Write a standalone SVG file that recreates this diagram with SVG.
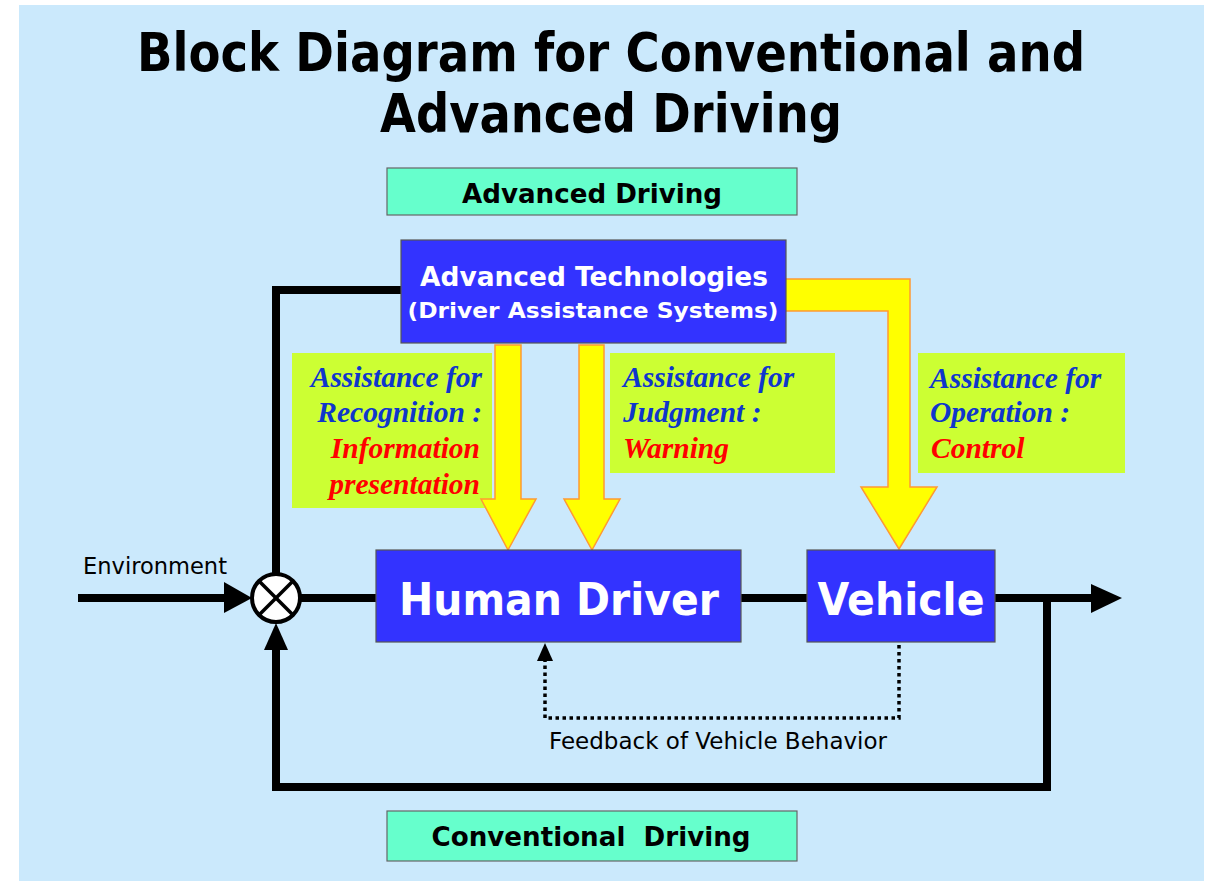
<svg xmlns="http://www.w3.org/2000/svg" width="1213" height="881" viewBox="0 0 1213 881">
<defs>
<style>
.bg{fill:#cbe9fc}
.blue{fill:#3333ff;stroke:#555;stroke-width:1.2}
.green{fill:#66ffcc;stroke:#666;stroke-width:1.2}
.lime{fill:#ccff33}
.yel{fill:#ffff00;stroke:#ff9933;stroke-width:1.5;stroke-linejoin:miter}
.ln{fill:none;stroke:#000;stroke-width:8;stroke-linejoin:miter}
.dot{fill:none;stroke:#000;stroke-width:3.5;stroke-dasharray:3.5 3.5}
.sans{font-family:"DejaVu Sans","Liberation Sans",sans-serif}
.b{font-weight:bold}
.w{fill:#ffffff}
.k{fill:#000}
.it{font-family:"Liberation Serif","Times New Roman",serif;font-style:italic;font-weight:bold;font-size:29.5px}
.ib{fill:#0f36cc}
.ir{fill:#ff0000}
</style>
</defs>
<rect x="0" y="0" width="1213" height="881" fill="#ffffff"/>
<rect class="bg" x="19" y="5" width="1185" height="876"/>

<g id="title" class="sans b k">
<text x="611" y="71" font-size="54" text-anchor="middle" textLength="948" lengthAdjust="spacingAndGlyphs">Block Diagram for Conventional and</text>
<text x="611" y="132" font-size="54" text-anchor="middle" textLength="462" lengthAdjust="spacingAndGlyphs">Advanced Driving</text>
</g>

<g id="advanced-driving-label">
<rect class="green" x="387" y="168" width="410" height="47"/>
<text class="sans b k" x="592" y="203" font-size="26" text-anchor="middle" textLength="260" lengthAdjust="spacingAndGlyphs">Advanced Driving</text>
</g>

<g id="assist-recognition">
<rect class="lime" x="292" y="353" width="200" height="155"/>
<g class="it" text-anchor="end">
<text class="ib" x="482" y="387">Assistance for</text>
<text class="ib" x="482" y="422">Recognition :</text>
<text class="ir" x="480" y="458">Information</text>
<text class="ir" x="480" y="494">presentation</text>
</g>
</g>

<g id="assist-judgment">
<rect class="lime" x="610" y="353" width="225" height="120"/>
<g class="it">
<text class="ib" x="623" y="387">Assistance for</text>
<text class="ib" x="623" y="422">Judgment :</text>
<text class="ir" x="623" y="458">Warning</text>
</g>
</g>

<g id="assist-operation">
<rect class="lime" x="918" y="353" width="207" height="120"/>
<g class="it">
<text class="ib" x="930" y="388">Assistance for</text>
<text class="ib" x="930" y="422">Operation :</text>
<text class="ir" x="931" y="458">Control</text>
</g>
</g>

<g id="assist-arrows">
<polygon class="yel" points="495,345 521,345 521,499 536,499 508,550 481,499 495,499"/>
<polygon class="yel" points="579,345 604,345 604,499 620,499 592,550 564,499 579,499"/>
<polygon class="yel" points="770,279 910,279 910,487 937,487 899,549 861,487 888,487 888,311 770,311"/>
</g>

<g id="connectors">
<polyline class="ln" points="401,290 276,290 276,574"/>
<line class="ln" x1="78" y1="598" x2="226" y2="598"/>
<polygon points="224,582 252,598 224,613" fill="#000"/>
<line class="ln" x1="300" y1="598" x2="376" y2="598"/>
<line class="ln" x1="741" y1="598" x2="807" y2="598"/>
<line class="ln" x1="995" y1="598" x2="1093" y2="598"/>
<polygon points="1091,584 1122,598 1091,613" fill="#000"/>
<polyline class="ln" points="1047,598 1047,787 276,787 276,648"/>
<polygon points="264,650 276,623 288,650" fill="#000"/>
<polyline class="dot" points="899,645 899,718 545,718 545,660"/>
<polygon points="537,661 545,643 553,661" fill="#000"/>
</g>

<g id="advanced-technologies">
<rect class="blue" x="401" y="240" width="385" height="103"/>
<text class="sans b w" x="594" y="286" font-size="26" text-anchor="middle" textLength="348" lengthAdjust="spacingAndGlyphs">Advanced Technologies</text>
<text class="sans b w" x="593" y="318" font-size="22" text-anchor="middle" textLength="371" lengthAdjust="spacingAndGlyphs">(Driver Assistance Systems)</text>
</g>

<g id="environment-label">
<text class="sans k" x="83" y="574" font-size="23" textLength="144" lengthAdjust="spacingAndGlyphs">Environment</text>
</g>

<g id="summing-junction">
<circle cx="276" cy="598" r="24" fill="#fff" stroke="#000" stroke-width="4"/>
<line x1="259" y1="581" x2="293" y2="615" stroke="#000" stroke-width="3.5"/>
<line x1="293" y1="581" x2="259" y2="615" stroke="#000" stroke-width="3.5"/>
</g>

<g id="human-driver">
<rect class="blue" x="376" y="550" width="365" height="92"/>
<text class="sans b w" x="559" y="615" font-size="45" text-anchor="middle" textLength="320" lengthAdjust="spacingAndGlyphs">Human Driver</text>
</g>

<g id="vehicle">
<rect class="blue" x="807" y="550" width="188" height="92"/>
<text class="sans b w" x="901" y="615" font-size="45" text-anchor="middle" textLength="167" lengthAdjust="spacingAndGlyphs">Vehicle</text>
</g>

<g id="feedback-label">
<text class="sans k" x="718" y="749" font-size="23" text-anchor="middle" textLength="338" lengthAdjust="spacingAndGlyphs">Feedback of Vehicle Behavior</text>
</g>

<g id="conventional-driving-label">
<rect class="green" x="387" y="811" width="410" height="50"/>
<text class="sans b k" x="591" y="846" font-size="26" text-anchor="middle" textLength="319" lengthAdjust="spacingAndGlyphs" xml:space="preserve">Conventional  Driving</text>
</g>
</svg>
